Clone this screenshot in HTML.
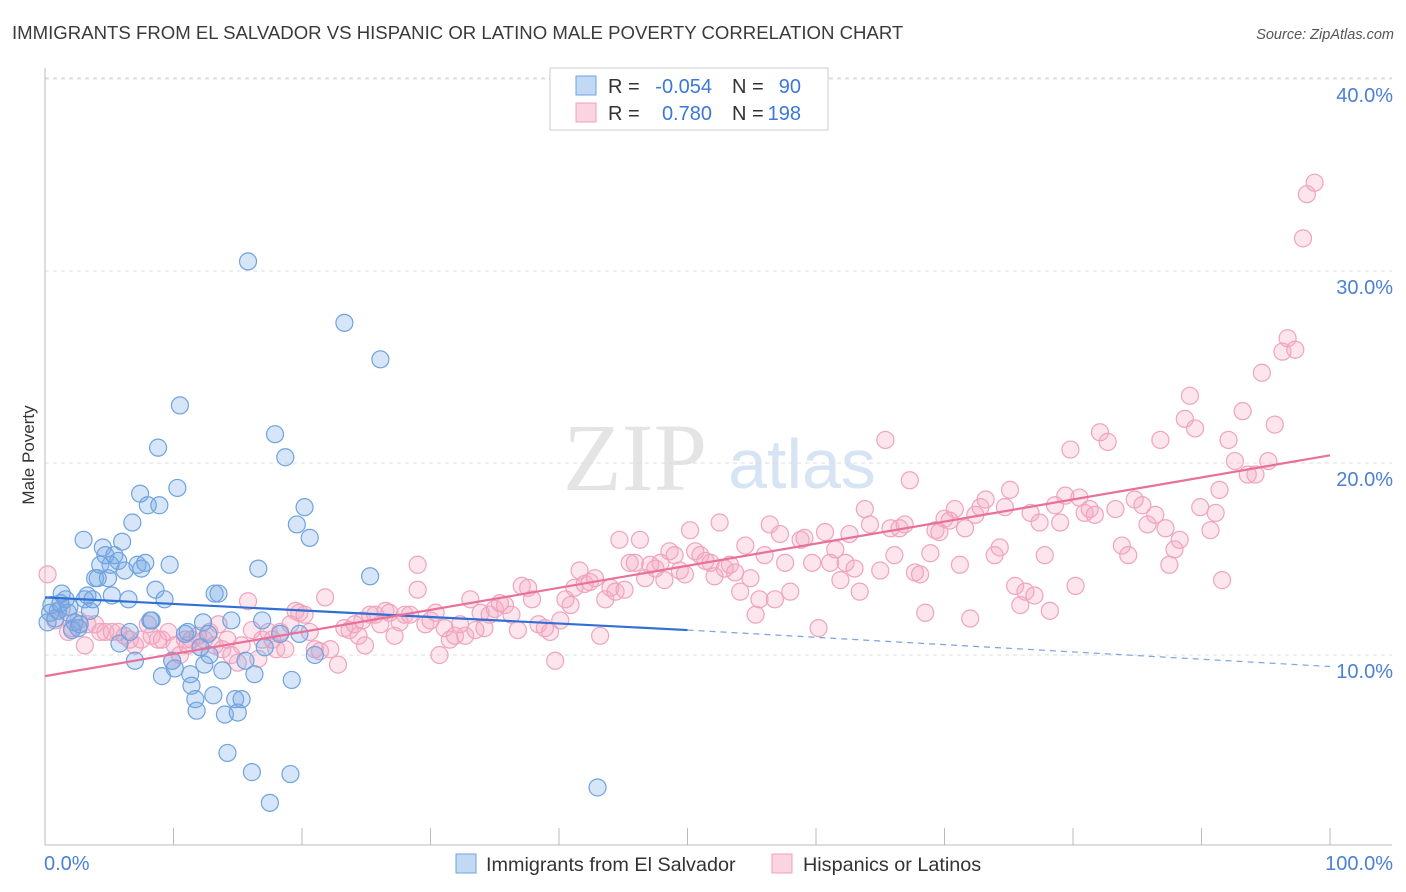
<!DOCTYPE html>
<html><head><meta charset="utf-8"><style>
body{margin:0;background:#fff;font-family:"Liberation Sans",sans-serif;}
#wrap{position:relative;width:1406px;height:892px;overflow:hidden;}
</style></head><body>
<div id="wrap">
<svg id="svg" width="1406" height="892" xmlns="http://www.w3.org/2000/svg">
<text x="12" y="39" font-size="18.6" fill="#3a3a3a">IMMIGRANTS FROM EL SALVADOR VS HISPANIC OR LATINO MALE POVERTY CORRELATION CHART</text>
<text x="1394" y="39" font-size="14.5" fill="#555" font-style="italic" text-anchor="end">Source: ZipAtlas.com</text>
<g>
<text x="635" y="490" font-size="96" fill="#e4e4e4" font-family="Liberation Serif" text-anchor="middle">ZIP</text>
<text x="802" y="488" font-size="70" fill="#d6e4f4" text-anchor="middle">atlas</text>
</g>
<g id="grid"></g><g id="axes"></g><g id="marks"></g><g id="lines"></g>
<text x="34" y="455" font-size="17" fill="#333" text-anchor="middle" transform="rotate(-90 34 455)">Male Poverty</text>
<g>
<rect x="550" y="68" width="278" height="62" fill="#fff" stroke="#ccc"/>
<rect x="576" y="76" width="20" height="19" fill="rgba(120,170,230,0.45)" stroke="#6fa3e0"/>
<rect x="576" y="103" width="20" height="19" fill="rgba(245,170,195,0.5)" stroke="#f0a0bb"/>
<text x="608" y="93" font-size="20" fill="#333">R =</text>
<text x="712" y="93" font-size="20" fill="#3b78d8" text-anchor="end">-0.054</text>
<text x="732" y="93" font-size="20" fill="#333">N =</text>
<text x="801" y="93" font-size="20" fill="#3b78d8" text-anchor="end">90</text>
<text x="608" y="120" font-size="20" fill="#333">R =</text>
<text x="712" y="120" font-size="20" fill="#3b78d8" text-anchor="end">0.780</text>
<text x="732" y="120" font-size="20" fill="#333">N =</text>
<text x="801" y="120" font-size="20" fill="#3b78d8" text-anchor="end">198</text>
</g>
<g>
<rect x="456" y="854" width="20" height="19" fill="rgba(120,170,230,0.45)" stroke="#6fa3e0"/>
<text x="486" y="871" font-size="19.8" fill="#333">Immigrants from El Salvador</text>
<rect x="772" y="854" width="20" height="19" fill="rgba(245,170,195,0.5)" stroke="#f0a0bb"/>
<text x="803" y="871" font-size="19.8" fill="#333">Hispanics or Latinos</text>
</g>
</svg>
</div>
<script>
const yTicks=[10,20,30,40];
const yTickLabels=["10.0%","20.0%","30.0%","40.0%"];
const xTickLabels=["0.0%","100.0%"];
const blueX=[0.2,0.4,0.5,0.8,1.0,1.2,1.3,1.6,1.8,1.9,2.1,2.3,2.6,2.7,3.0,3.1,3.3,3.5,3.7,3.9,4.1,4.3,4.5,4.7,4.9,5.1,5.2,5.4,5.7,5.8,6.0,6.2,6.5,6.6,6.8,7.0,7.2,7.4,7.5,7.8,8.0,8.2,8.3,8.6,8.8,8.9,9.1,9.3,9.7,9.9,10.1,10.3,10.5,10.9,11.1,11.3,11.4,11.7,11.8,12.1,12.3,12.4,12.7,12.8,13.1,13.2,13.5,13.8,14.0,14.2,14.5,14.8,15.0,15.3,15.6,15.8,16.1,16.3,16.6,16.9,17.1,17.5,17.9,18.3,18.7,19.1,19.2,19.6,19.8,20.2,20.6,21.0,23.3,25.3,26.1,43.0];
const blueY=[11.7,12.2,12.6,11.9,12.3,12.7,13.2,12.9,12.2,12.5,11.3,11.7,11.4,11.6,16.0,12.9,13.1,12.3,12.9,14.0,14.0,14.7,15.6,15.2,14.0,14.7,13.1,15.2,14.9,10.6,15.9,14.4,12.9,11.2,16.9,9.7,14.7,18.4,14.5,14.8,17.8,11.8,11.8,13.4,20.8,17.8,8.9,12.9,14.7,9.7,9.3,18.7,23.0,11.1,11.2,9.0,8.4,7.7,7.1,10.4,11.7,9.5,11.1,10.0,7.9,13.2,13.2,9.2,6.9,4.9,11.8,7.7,7.0,7.7,9.7,30.5,3.9,9.0,14.5,11.8,10.4,2.3,21.5,11.1,20.3,3.8,8.7,16.8,11.1,17.7,16.1,10.0,27.3,14.1,25.4,3.1];
const pinkX=[0.2,0.8,1.3,1.8,2.1,2.6,3.1,3.3,3.9,4.3,4.7,5.2,5.7,6.2,6.6,7.0,7.5,8.0,8.3,8.8,9.1,9.6,9.9,10.1,10.5,10.9,11.1,11.4,11.9,12.1,12.4,12.8,13.2,13.5,13.8,14.2,14.5,15.0,15.3,15.8,16.1,16.6,16.9,17.4,17.7,18.0,18.3,18.7,19.1,19.5,19.8,20.2,20.6,21.0,21.4,21.8,22.2,22.8,23.3,23.7,24.1,24.4,24.7,24.9,25.3,25.7,26.1,26.5,26.8,27.2,27.6,28.0,28.4,29.0,29.0,29.6,30.0,30.4,30.7,31.1,31.5,31.9,32.3,32.7,33.1,33.5,33.9,34.2,34.6,35.0,35.4,35.8,36.3,36.8,37.1,37.6,37.9,38.4,38.9,39.3,39.7,40.1,40.5,40.9,41.2,41.6,42.0,42.4,42.8,43.2,43.6,44.0,44.4,44.7,45.1,45.5,45.9,46.3,46.7,47.1,47.5,47.9,48.2,48.6,49.0,49.4,49.8,50.2,50.6,51.0,51.4,51.8,52.1,52.5,52.9,53.3,53.7,54.1,54.5,54.9,55.3,55.6,56.0,56.4,56.8,57.2,57.6,58.0,58.8,59.1,59.7,60.2,60.7,61.1,61.5,61.9,62.3,62.6,63.0,63.4,63.8,64.2,65.0,65.4,65.8,66.1,66.5,66.9,67.3,67.7,68.1,68.5,68.9,69.3,69.6,70.0,70.4,70.8,71.2,71.6,72.0,72.4,72.8,73.2,73.9,74.3,74.7,75.1,75.5,75.9,76.3,76.7,77.0,77.4,77.8,78.2,78.6,79.0,79.4,79.8,80.2,80.5,80.9,81.3,81.7,82.1,82.7,83.3,83.8,84.3,84.8,85.4,85.8,86.4,86.8,87.2,87.5,87.9,88.3,88.7,89.1,89.5,89.9,90.7,91.1,91.4,91.6,92.1,92.6,93.2,93.6,94.2,94.7,95.2,95.7,96.3,96.7,97.3,97.9,98.2,98.8];
const pinkY=[14.2,11.8,12.4,11.2,11.4,11.8,10.5,11.6,11.6,11.2,11.2,11.2,11.2,11.0,10.8,10.5,10.8,11.6,11.0,10.8,10.8,11.2,9.7,10.5,10.0,10.8,10.5,10.8,11.0,10.4,10.8,11.2,10.5,11.6,10.3,10.8,10.0,9.6,10.5,12.8,11.3,9.8,10.8,11.2,10.8,10.3,11.2,10.3,11.6,12.3,12.2,12.1,11.2,10.3,10.2,13.0,10.3,9.5,11.4,11.3,11.6,11.0,11.8,10.5,12.1,12.1,11.6,12.3,12.2,11.0,11.7,12.1,12.1,14.7,13.4,11.6,11.8,12.2,10.0,11.4,10.8,11.0,11.6,11.0,12.9,11.3,12.2,11.4,12.1,12.4,12.7,12.6,12.1,11.3,13.6,13.5,12.9,11.6,11.4,11.2,9.7,11.8,12.9,12.6,13.5,14.4,13.7,13.8,14.0,11.0,12.9,13.5,13.3,16.0,13.4,14.8,14.8,16.0,14.0,14.7,14.5,14.8,13.9,15.4,15.2,14.4,14.2,16.5,15.4,15.2,14.9,14.8,14.1,16.9,14.5,14.7,14.3,13.3,15.7,14.0,12.1,12.9,15.2,16.8,12.9,16.3,14.8,13.3,16.0,16.1,14.8,11.4,16.4,14.8,15.5,13.9,14.8,16.3,14.5,13.3,17.6,16.8,14.4,21.2,16.6,15.2,16.6,16.8,19.1,14.3,14.2,12.2,15.3,16.5,16.4,17.1,17.0,17.6,14.7,16.6,11.9,17.3,17.7,18.1,15.2,15.6,17.7,18.6,13.6,12.6,13.3,17.4,13.1,16.9,15.2,12.3,17.8,16.9,18.3,20.7,13.6,18.2,17.4,17.6,17.3,21.6,21.1,17.6,15.7,15.2,18.1,17.8,16.8,17.3,21.2,16.6,14.7,15.5,16.0,22.3,23.5,21.8,17.7,16.5,17.4,18.6,13.9,21.2,20.1,22.7,19.4,19.4,24.7,20.1,22.0,25.8,26.5,25.9,31.7,34.0,34.6];
const blueFit=[13.0,11.3,9.4];
const pinkFit=[8.9,20.4];

const NS="http://www.w3.org/2000/svg";
const X0=45,X1=1330,Y0=847,PPU=19.2;
const sx=v=>X0+(X1-X0)*v/100;
const sy=v=>Y0-v*PPU;
function mk(tag,attrs,parent){const e=document.createElementNS(NS,tag);for(const k in attrs)e.setAttribute(k,attrs[k]);parent.appendChild(e);return e;}
const grid=document.getElementById('grid'),axes=document.getElementById('axes'),marks=document.getElementById('marks'),lines=document.getElementById('lines');
yTicks.forEach((t,i)=>{
  const l=mk('line',{x1:X0,x2:1392,y1:sy(t),y2:sy(t),stroke:'#dcdcdc','stroke-dasharray':'4,4'},grid);
  
  
  const tx=mk('text',{x:1393,y:sy(t)+23,'font-size':20,fill:'#4a80d6','text-anchor':'end'},axes);
  tx.textContent=yTickLabels[i];
  
  
});
const topLine=mk('line',{x1:X0,x2:1392,y1:78,y2:78,stroke:'#dcdcdc','stroke-dasharray':'4,4'},grid);


const ya=mk('line',{x1:X0,x2:X0,y1:68,y2:845,stroke:'#bbb'},axes);


const xa=mk('line',{x1:X0,x2:1392,y1:845,y2:845,stroke:'#bbb'},axes);


for(let i=1;i<=10;i++){
  const tk=mk('line',{x1:sx(i*10),x2:sx(i*10),y1:828,y2:845,stroke:'#bbb'},axes);
  
  
}
[[0,'start'],[100,'end']].forEach((p,i)=>{
  const tx=mk('text',{x:i?1393:44,y:870,'font-size':20,fill:'#4a80d6','text-anchor':p[1]},axes);
  tx.textContent=xTickLabels[i];
  
  
});
pinkX.forEach((x,i)=>{
  const c=mk('circle',{cx:sx(x),cy:sy(pinkY[i]),r:8.5,fill:'rgba(245,170,195,0.3)',stroke:'#f0a3bd','stroke-width':1.2},marks);
  
  
});
blueX.forEach((x,i)=>{
  const c=mk('circle',{cx:sx(x),cy:sy(blueY[i]),r:8.5,fill:'rgba(120,170,230,0.3)',stroke:'#6fa3e0','stroke-width':1.2},marks);
  
  
});
const b1=mk('line',{x1:sx(0),y1:sy(blueFit[0]),x2:sx(50),y2:sy(blueFit[1]),stroke:'#2f6fd6','stroke-width':2.2},lines);


const b2=mk('line',{x1:sx(50),y1:sy(blueFit[1]),x2:sx(100),y2:sy(blueFit[2]),stroke:'#7aa4e0','stroke-width':1.2,'stroke-dasharray':'6,5'},lines);


const p1=mk('line',{x1:sx(0),y1:sy(pinkFit[0]),x2:sx(100),y2:sy(pinkFit[1]),stroke:'#e8709a','stroke-width':2.2},lines);


</script>
</body></html>
